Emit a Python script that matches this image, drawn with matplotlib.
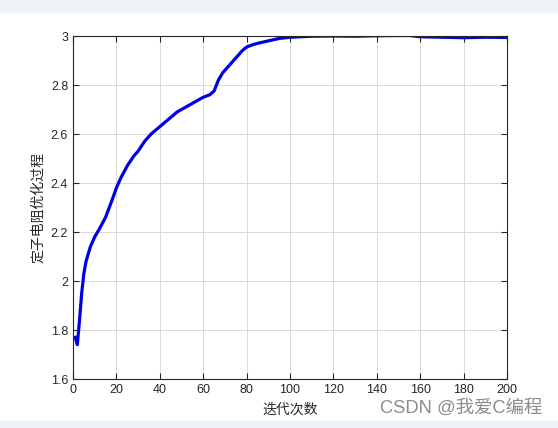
import numpy as np
import matplotlib.pyplot as plt
from matplotlib.patches import Rectangle

plt.rcParams['font.family'] = ['Liberation Sans', 'Noto Sans CJK SC', 'DejaVu Sans']

# iteration numbers and stator resistance estimate
iters = [1, 2, 3, 4, 5, 6, 7, 8, 10, 12, 15, 18, 20, 22, 25, 28, 30, 33, 36, 40,
         44, 48, 52, 56, 60, 63, 65, 67, 69, 72, 75, 78, 80, 83, 86, 90, 95,
         100, 110, 120, 130, 140, 150, 155, 160, 170, 180, 190, 200]
resist = [1.77, 1.74, 1.84, 1.95, 2.03, 2.08, 2.11, 2.14, 2.18, 2.21, 2.26, 2.33, 2.38, 2.42,
          2.47, 2.51, 2.53, 2.57, 2.60, 2.63, 2.66, 2.69, 2.71, 2.73, 2.75, 2.76, 2.775,
          2.82, 2.85, 2.88, 2.91, 2.94, 2.955, 2.965, 2.972, 2.98, 2.99, 2.995,
          2.999, 3.0, 2.999, 3.001, 3.002, 3.002, 2.997, 2.995, 2.993, 2.995, 2.994]

fig = plt.figure(figsize=(5.58, 4.28), dpi=100)
fig.patches.append(Rectangle((0, 1 - 12/428), 1, 12/428, transform=fig.transFigure,
                             color='#eef3fa', zorder=0))
fig.patches.append(Rectangle((0, 0), 1, 7/428, transform=fig.transFigure,
                             color='#eef3fa', zorder=0))

ax = fig.add_axes([73/558, 1 - 379/428, (507-73)/558, (379-36)/428])
ax.plot(iters, resist, color='#0000e6', linewidth=2.3)
ax.set_xlim(0, 200)
ax.set_ylim(1.6, 3.0)
ax.set_xticks(np.arange(0, 201, 20))
ax.set_yticks(np.arange(1.6, 3.01, 0.2))
ax.set_yticklabels(['1.6', '1.8', '2', '2.2', '2.4', '2.6', '2.8', '3'])
ax.grid(True, color='#d9d9d9', linewidth=0.7)
ax.tick_params(direction='in', top=True, right=True, labelsize=9, length=4,
               color='#262626', labelcolor='#262626')
for s in ax.spines.values():
    s.set_color('#262626')
    s.set_linewidth(0.8)

ax.set_xlabel('迭代次数', fontsize=10, family=['Noto Sans CJK SC'], color='#262626', labelpad=5)
ax.set_ylabel('定子电阻优化过程', fontsize=10, family=['Noto Sans CJK SC'], color='#262626', labelpad=4)

fig.text(542/558, 1 - 408/428, 'CSDN @我爱C编程', ha='right', va='center', fontsize=13.2,
         color='#8c8c8c', family=['Liberation Sans', 'Noto Sans CJK SC'])

fig.savefig('out.png', dpi=100)
